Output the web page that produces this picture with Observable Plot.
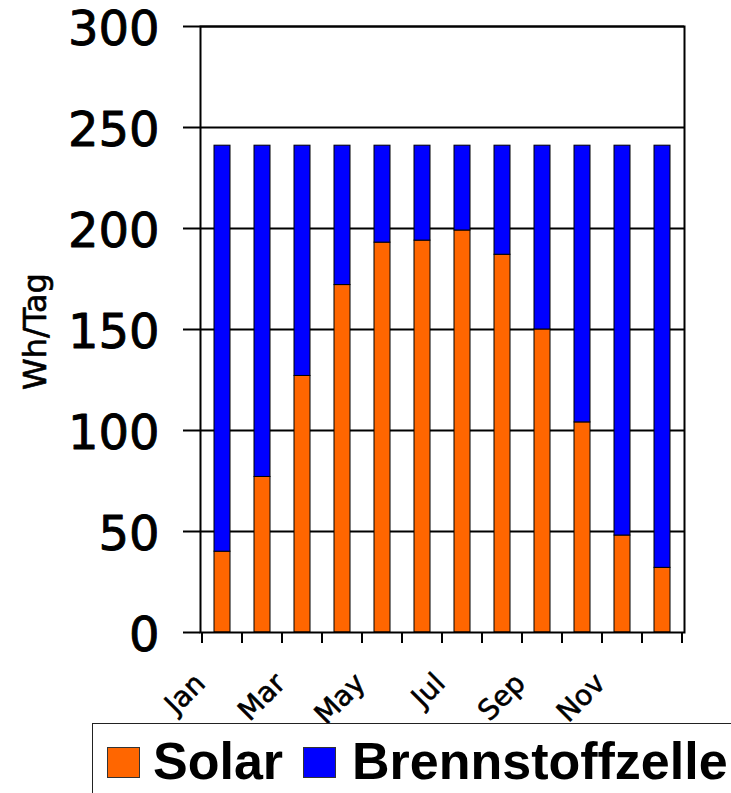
<!DOCTYPE html>
<html>
<head>
<meta charset="utf-8">
<script src="https://cdn.jsdelivr.net/npm/d3@7"></script>
<script src="https://cdn.jsdelivr.net/npm/@observablehq/plot@0.6"></script>
<style>
  html, body { margin: 0; padding: 0; background: #fff; }
  #wrap { position: relative; width: 731px; height: 793px; overflow: hidden; background: #fff; }
  #chart { position: absolute; left: 0; top: 0; }
  #legend { position: absolute; left: 92px; top: 723px; width: 700px; height: 120px;
            border: 1.5px solid #222; box-sizing: border-box; background: transparent; }
  .sw { position: absolute; top: 23px; width: 33px; height: 31px; border: 1.5px solid #333; box-sizing: border-box; }
  .lt { position: absolute; top: 8px; font-family: "Liberation Sans", Arial, sans-serif; font-weight: bold;
        font-size: 52px; line-height: 58px; color: #000; white-space: nowrap; }
</style>
</head>
<body>
<div id="wrap">
  <div id="chart"></div>
  <div id="legend"></div>
</div>
<script>
const months = ["Jan","Feb","Mar","Apr","May","Jun","Jul","Aug","Sep","Oct","Nov","Dec"];
const solar = [40, 77, 127, 172, 193, 194, 199, 187, 150, 104, 48, 32];
const brennstoffzelle = [201, 164, 114, 69, 48, 47, 42, 54, 91, 137, 193, 209];
const seriesNames = ["Solar", "Brennstoffzelle"];
const seriesColors = ["#FF6600", "#0000FF"];
const yTicks = [0, 50, 100, 150, 200, 250, 300];
const xLabels = ["Jan", "Mar", "May", "Jul", "Sep", "Nov"];
const yLabel = "Wh/Tag";

const PAD = 0.6;

const data = [];
months.forEach((m, i) => {
  data.push({month: m, series: seriesNames[0], value: solar[i]});
  data.push({month: m, series: seriesNames[1], value: brennstoffzelle[i]});
});

function boundaryTicks(index, scales, values, dimensions) {
  const x = scales.x, y = scales.y;
  const step = x(months[1]) - x(months[0]);
  const bw = step * (1 - PAD);
  const xs = months.map(m => x(m) - (step - bw) / 2);
  xs.push(xs[xs.length - 1] + step);
  const y0 = y(0);
  const g = d3.create("svg:g");
  g.selectAll("line").data(xs).join("line")
    .attr("x1", d => d).attr("x2", d => d)
    .attr("y1", y0).attr("y2", y0 + 11)
    .attr("stroke", "black").attr("stroke-width", 2);
  return g.node();
}

const chart = Plot.plot({
  width: 731,
  height: 793,
  marginTop: 26,
  marginBottom: 161,
  marginLeft: 200,
  marginRight: 47,
  style: {fontFamily: "DejaVu Sans", background: "transparent", color: "black"},
  x: {domain: months, paddingInner: PAD, paddingOuter: PAD / 2, axis: null},
  y: {domain: [0, 300], axis: null},
  color: {domain: seriesNames, range: seriesColors},
  marks: [
    Plot.ruleY(yTicks.filter(d => d > 0), {stroke: "black", strokeWidth: 2}),
    Plot.barY(data, {x: "month", y: "value", fill: "series", stroke: "black", strokeWidth: 1, order: seriesNames}),
    Plot.frame({stroke: "black", strokeWidth: 2}),
    Plot.axisY({ticks: yTicks, tickSize: 17, tickFormat: () => "", strokeWidth: 2, label: null}),
    Plot.axisY({ticks: yTicks, tickSize: 0, tickPadding: 41, fontSize: 48, dy: 3,
                textStroke: "black", textStrokeWidth: 0.9, label: null}),
    Plot.axisX({ticks: xLabels, tickSize: 0, tickPadding: 46, tickRotate: -45, fontSize: 28, dx: -22,
                textStroke: "black", textStrokeWidth: 0.6, label: null}),
    boundaryTicks,
    Plot.text([yLabel], {frameAnchor: "left", textAnchor: "middle", rotate: -90, dx: -165, dy: 2, fontSize: 32,
                         fill: "black", stroke: "black", strokeWidth: 0.6})
  ]
});
document.getElementById("chart").appendChild(chart);

const legend = document.getElementById("legend");
const swX = [14, 210];
const txX = [60, 259];
seriesNames.forEach((name, i) => {
  const sw = document.createElement("div");
  sw.className = "sw";
  sw.style.left = swX[i] + "px";
  sw.style.background = seriesColors[i];
  legend.appendChild(sw);
  const t = document.createElement("div");
  t.className = "lt";
  t.style.left = txX[i] + "px";
  t.textContent = name;
  legend.appendChild(t);
});
</script>
</body>
</html>
